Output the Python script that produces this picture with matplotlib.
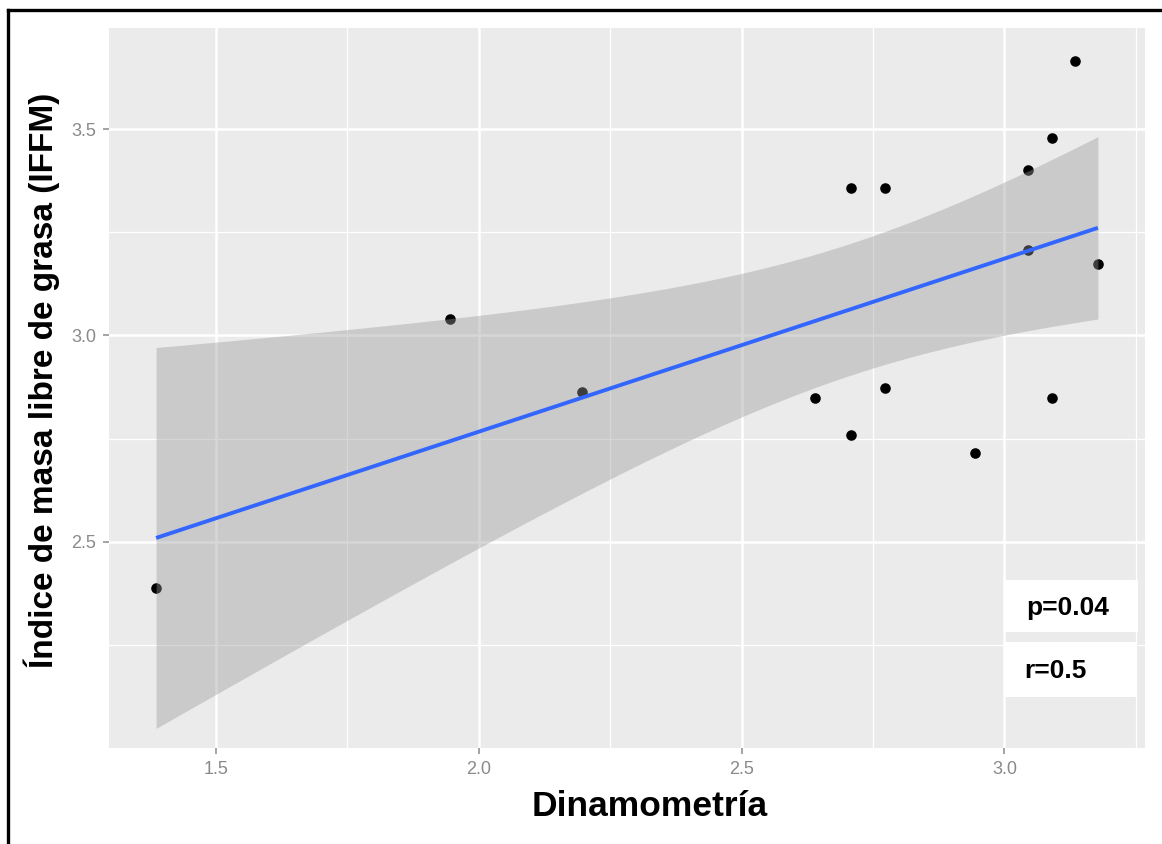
import numpy as np
import matplotlib
matplotlib.use("Agg")
import matplotlib.pyplot as plt
from matplotlib.lines import Line2D
from matplotlib.patches import Rectangle

# ---- data ----
dinamometria = [1.386, 1.946, 2.197, 2.640, 2.708, 2.773, 2.708, 2.773,
                2.944, 3.045, 3.045, 3.091, 3.091, 3.135, 3.178]
iffm = [2.387, 3.039, 2.862, 2.849, 3.357, 3.357, 2.758, 2.872,
        2.714, 3.402, 3.208, 2.849, 3.478, 3.665, 3.173]
x_ticks = [1.5, 2.0, 2.5, 3.0]
x_tick_labels = ["1.5", "2.0", "2.5", "3.0"]
y_ticks = [2.5, 3.0, 3.5]
y_tick_labels = ["2.5", "3.0", "3.5"]
x_minor = [1.75, 2.25, 2.75, 3.25]
y_minor = [2.25, 2.75, 3.25]
p_text = "p=0.04"
r_text = "r=0.5"
x_label = "Dinamometría"
y_label = "Índice de masa libre de grasa (IFFM)"

plt.rcParams['font.family'] = ['Liberation Sans', 'DejaVu Sans']

x = np.array(dinamometria)
y = np.array(iffm)

# linear model with 95% confidence band (like geom_smooth(method="lm"))
n = len(x)
slope, intercept = np.polyfit(x, y, 1)
resid = y - (slope * x + intercept)
s = np.sqrt(np.sum(resid ** 2) / (n - 2))
sxx = np.sum((x - x.mean()) ** 2)
t_crit = 2.1604  # t(0.975, df=13)
xs = np.linspace(x.min(), x.max(), 80)
fit = slope * xs + intercept
se = s * np.sqrt(1.0 / n + (xs - x.mean()) ** 2 / sxx)
lo = fit - t_crit * se
hi = fit + t_crit * se

fig = plt.figure(figsize=(11.62, 8.44), dpi=100)
ax = fig.add_axes([109 / 1162, 1 - 748 / 844, (1145 - 109) / 1162, (748 - 28) / 844])
ax.set_facecolor('#EBEBEB')
for sp in ax.spines.values():
    sp.set_visible(False)

# x limits with ggplot-like 5% expansion; y limits as in the reference panel
xr = x.max() - x.min()
ax.set_xlim(x.min() - 0.05 * xr, x.max() + 0.05 * xr)
ax.set_ylim(2.0, 3.745)

ax.set_xticks(x_ticks)
ax.set_xticklabels(x_tick_labels)
ax.set_yticks(y_ticks)
ax.set_yticklabels(y_tick_labels)
ax.set_xticks(x_minor, minor=True)
ax.set_yticks(y_minor, minor=True)
ax.tick_params(axis='both', which='major', length=4, width=1.1, color='#8a8a8a',
               labelcolor='#8a8a8a', labelsize=13, pad=5)
ax.tick_params(axis='both', which='minor', length=0)
ax.set_axisbelow(True)
ax.grid(which='major', color='white', linewidth=1.8)
ax.grid(which='minor', color='white', linewidth=0.9)

ax.scatter(x, y, s=58, color='black', zorder=2, linewidths=0)
ax.fill_between(xs, lo, hi, color='#999999', alpha=0.4, linewidth=0, zorder=3)
ax.plot(xs, fit, color='#3366FF', linewidth=2.8, zorder=4, solid_capstyle='butt')

# p / r boxes
ax.add_patch(Rectangle((0.865, 0.161), 0.128, 0.072, transform=ax.transAxes,
                       facecolor='white', edgecolor='none', zorder=5))
ax.add_patch(Rectangle((0.864, 0.071), 0.127, 0.076, transform=ax.transAxes,
                       facecolor='white', edgecolor='none', zorder=5))
ax.text(0.885, 0.195, p_text, transform=ax.transAxes, ha='left', va='center',
        fontsize=19, fontweight='bold', color='black', zorder=6)
ax.text(0.883, 0.107, r_text, transform=ax.transAxes, ha='left', va='center',
        fontsize=19, fontweight='bold', color='black', zorder=6)

fig.text(650 / 1162, 1 - 806 / 844, x_label, ha='center', va='center',
         fontsize=25.5, fontweight='bold', color='black')
fig.text(42 / 1162, 1 - 380 / 844, y_label, ha='center', va='center',
         rotation=90, fontsize=24, fontweight='bold', color='black')

# outer frame (top and left)
fig.add_artist(Line2D([8 / 1162, 8 / 1162], [0, 1 - 10 / 844],
                      transform=fig.transFigure, color='black', linewidth=2.4))
fig.add_artist(Line2D([8 / 1162, 1], [1 - 10 / 844, 1 - 10 / 844],
                      transform=fig.transFigure, color='black', linewidth=2.4))

fig.savefig('out.png', dpi=100)
